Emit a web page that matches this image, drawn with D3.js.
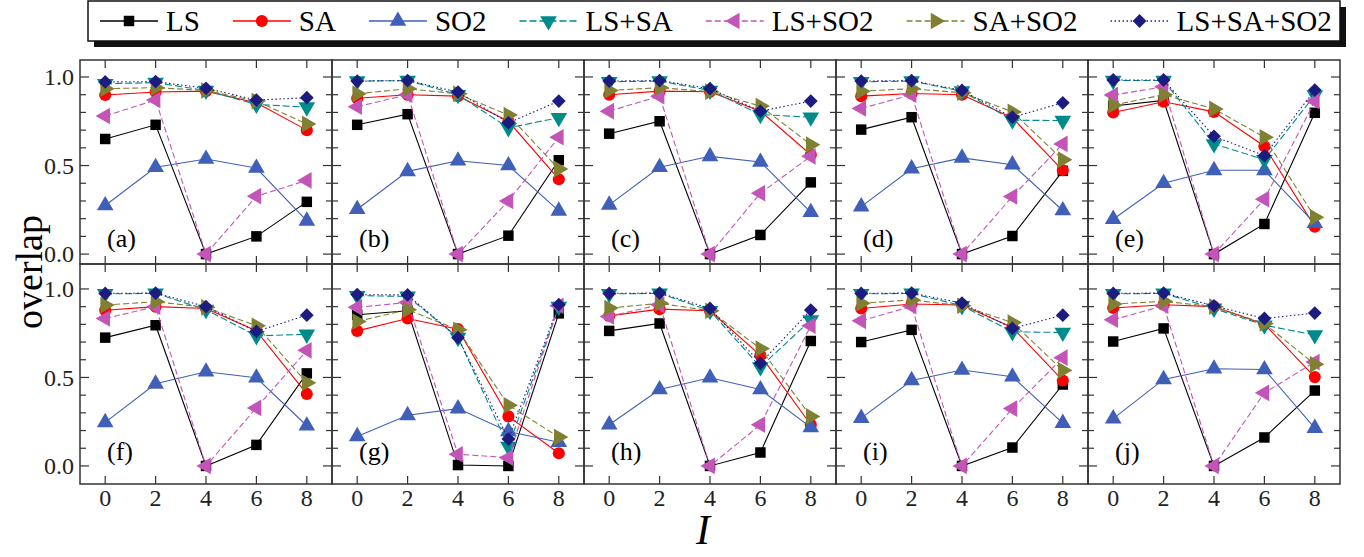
<!DOCTYPE html>
<html>
<head>
<meta charset="utf-8">
<script src="https://cdn.jsdelivr.net/npm/d3@7"></script>
<style>
  body { margin: 0; background: #fff; }
  svg { display: block; }
  text { font-family: 'Liberation Serif', 'DejaVu Serif', serif; }
</style>
</head>
<body>
<div id="chart"></div>
<script>
// x values (I) and panel names
const Ivals = [0, 2, 4, 6, 8];
const panelLabels = ["(a)", "(b)", "(c)", "(d)", "(e)", "(f)", "(g)", "(h)", "(i)", "(j)"];
const seriesNames = ["LS", "SA", "SO2", "LS+SA", "LS+SO2", "SA+SO2", "LS+SA+SO2"];
const yTicks = [0, 0.5, 1.0];

// one row per panel (a..j), values at I = 0,2,4,6,8
const LS = [
  [0.65, 0.73, 0, 0.10, 0.295],
  [0.73, 0.79, 0, 0.104, 0.53],
  [0.68, 0.75, 0, 0.108, 0.405],
  [0.703, 0.773, 0, 0.102, 0.47],
  [0.836, 0.868, 0, 0.17, 0.798],
  [0.725, 0.795, 0, 0.119, 0.523],
  [0.854, 0.877, 0.005, 0, 0.862],
  [0.763, 0.805, 0, 0.076, 0.706],
  [0.70, 0.769, 0, 0.104, 0.46],
  [0.703, 0.777, 0, 0.161, 0.426]
];
const SA = [
  [0.898, 0.915, 0.92, 0.854, 0.70],
  [0.88, 0.90, 0.892, 0.75, 0.423],
  [0.90, 0.92, 0.917, 0.807, 0.561],
  [0.892, 0.907, 0.90, 0.769, 0.473],
  [0.80, 0.86, 0.803, 0.609, 0.155],
  [0.88, 0.90, 0.89, 0.763, 0.407],
  [0.763, 0.833, 0.773, 0.28, 0.072],
  [0.848, 0.886, 0.877, 0.625, 0.233],
  [0.89, 0.915, 0.909, 0.782, 0.483],
  [0.892, 0.911, 0.90, 0.801, 0.502]
];
const SO2 = [
  [0.274, 0.49, 0.537, 0.486, 0.187],
  [0.253, 0.467, 0.527, 0.50, 0.244],
  [0.278, 0.49, 0.552, 0.52, 0.236],
  [0.268, 0.482, 0.543, 0.505, 0.246],
  [0.197, 0.40, 0.473, 0.473, 0.174],
  [0.246, 0.464, 0.532, 0.498, 0.227],
  [0.167, 0.286, 0.324, 0.195, 0.134],
  [0.233, 0.432, 0.498, 0.432, 0.218],
  [0.27, 0.483, 0.542, 0.504, 0.242],
  [0.267, 0.489, 0.549, 0.545, 0.214]
];
const LS_SA = [
  [0.962, 0.968, 0.924, 0.845, 0.83],
  [0.977, 0.98, 0.90, 0.713, 0.77],
  [0.973, 0.977, 0.924, 0.788, 0.773],
  [0.973, 0.977, 0.92, 0.756, 0.754],
  [0.98, 0.98, 0.622, 0.533, 0.898],
  [0.972, 0.975, 0.883, 0.735, 0.744],
  [0.962, 0.958, 0.725, 0.11, 0.90],
  [0.972, 0.975, 0.877, 0.559, 0.824],
  [0.972, 0.975, 0.905, 0.758, 0.754],
  [0.972, 0.975, 0.89, 0.795, 0.74]
];
const LS_SO2 = [
  [0.78, 0.87, 0, 0.327, 0.416],
  [0.832, 0.90, 0, 0.30, 0.66],
  [0.807, 0.892, 0, 0.344, 0.552],
  [0.822, 0.90, 0, 0.325, 0.622],
  [0.898, 0.945, 0, 0.31, 0.864],
  [0.833, 0.90, 0, 0.328, 0.653],
  [0.896, 0.924, 0.066, 0.047, 0.905],
  [0.845, 0.911, 0, 0.233, 0.792],
  [0.82, 0.902, 0, 0.324, 0.612],
  [0.826, 0.905, 0, 0.413, 0.587]
];
const SA_SO2 = [
  [0.934, 0.94, 0.924, 0.864, 0.735],
  [0.905, 0.934, 0.905, 0.785, 0.48],
  [0.924, 0.94, 0.917, 0.836, 0.618],
  [0.92, 0.934, 0.911, 0.803, 0.533],
  [0.841, 0.90, 0.82, 0.66, 0.208],
  [0.909, 0.928, 0.896, 0.792, 0.47],
  [0.816, 0.883, 0.769, 0.343, 0.163],
  [0.892, 0.919, 0.877, 0.663, 0.28],
  [0.919, 0.938, 0.905, 0.81, 0.54],
  [0.915, 0.93, 0.90, 0.805, 0.574]
];
const LS_SA_SO2 = [
  [0.972, 0.974, 0.936, 0.87, 0.883],
  [0.977, 0.98, 0.915, 0.741, 0.864],
  [0.977, 0.98, 0.934, 0.807, 0.864],
  [0.977, 0.98, 0.924, 0.773, 0.854],
  [0.983, 0.983, 0.665, 0.556, 0.926],
  [0.975, 0.977, 0.90, 0.76, 0.852],
  [0.968, 0.966, 0.725, 0.152, 0.911],
  [0.975, 0.977, 0.89, 0.58, 0.881],
  [0.975, 0.977, 0.92, 0.777, 0.852],
  [0.975, 0.977, 0.905, 0.833, 0.864]
];

const allSeries = [LS, SA, SO2, LS_SA, LS_SO2, SA_SO2, LS_SA_SO2];

// styles
const colors = ["#000000", "#ff0000", "#3f5fb8", "#008b8b", "#c455b8", "#808033", "#1c1c80"];
const dashes = [null, null, null, "7,3", "6,3", "6,3", "1.5,2.5"];
const symbols = [
  { type: d3.symbolSquare, size: 110, rot: 0 },
  { type: d3.symbolCircle, size: 115, rot: 0 },
  { type: d3.symbolTriangle, size: 120, rot: 0 },
  { type: d3.symbolTriangle, size: 120, rot: 180 },
  { type: d3.symbolTriangle, size: 120, rot: -90 },
  { type: d3.symbolTriangle, size: 120, rot: 90 },
  { type: d3.symbolSquare, size: 95, rot: 45 }
];

const width = 1364, height = 557;
const panelW = 252;
const left0 = 80;
const rows = [
  { top: 60, bottom: 264, domain: [-0.056, 1.096] },
  { top: 264, bottom: 484, domain: [-0.102, 1.141] }
];
const serif = "'Liberation Serif', 'DejaVu Serif', serif";

const svg = d3.select("#chart").append("svg")
  .attr("width", width)
  .attr("height", height)
  .attr("font-family", serif);

const frameColor = "#333";

for (let p = 0; p < 10; p++) {
  let r = Math.floor(p / 5), c = p % 5;
  let row = rows[r];
  let x0 = left0 + c * panelW;
  let x = d3.scaleLinear().domain([-1, 9]).range([x0, x0 + panelW]);
  let y = d3.scaleLinear().domain(row.domain).range([row.bottom, row.top]);

  let g = svg.append("g").attr("class", "panel");

  // ticks inward on all sides
  let yMinor = d3.range(0, 11).map(d => d / 10);
  g.selectAll("line.yl").data(yMinor).join("line")
    .attr("x1", x0).attr("x2", d => x0 + (d * 10 % 5 === 0 ? 9 : 6))
    .attr("y1", d => y(d)).attr("y2", d => y(d))
    .attr("stroke", frameColor).attr("stroke-width", 1.2);
  g.selectAll("line.yr").data(yMinor).join("line")
    .attr("x1", x0 + panelW).attr("x2", d => x0 + panelW - (d * 10 % 5 === 0 ? 9 : 6))
    .attr("y1", d => y(d)).attr("y2", d => y(d))
    .attr("stroke", frameColor).attr("stroke-width", 1.2);
  g.selectAll("line.xb").data(Ivals).join("line")
    .attr("x1", d => x(d)).attr("x2", d => x(d))
    .attr("y1", row.bottom).attr("y2", row.bottom - 8)
    .attr("stroke", frameColor).attr("stroke-width", 1.2);
  g.selectAll("line.xt").data(Ivals).join("line")
    .attr("x1", d => x(d)).attr("x2", d => x(d))
    .attr("y1", row.top).attr("y2", row.top + 8)
    .attr("stroke", frameColor).attr("stroke-width", 1.2);

  g.append("rect")
    .attr("x", x0).attr("y", row.top)
    .attr("width", panelW).attr("height", row.bottom - row.top)
    .attr("fill", "none").attr("stroke", frameColor).attr("stroke-width", 1.5);

  if (c === 0) {
    g.selectAll("text.yt").data(yTicks).join("text")
      .attr("x", x0 - 6).attr("y", d => y(d))
      .attr("dy", "0.35em")
      .attr("text-anchor", "end")
      .attr("font-family", serif)
      .attr("font-size", 24)
      .attr("fill", "#222")
      .text(d => d3.format(".1f")(d));
  }
  if (r === 1) {
    g.selectAll("text.xt").data(Ivals).join("text")
      .attr("x", d => x(d)).attr("y", row.bottom + 22)
      .attr("text-anchor", "middle")
      .attr("font-family", serif)
      .attr("font-size", 24)
      .attr("fill", "#222")
      .text(d => d);
  }

  g.append("text")
    .attr("x", x0 + 27).attr("y", r === 0 ? row.bottom - 17 : row.bottom - 24)
    .attr("font-family", serif)
    .attr("font-size", 26)
    .text(panelLabels[p]);

  let line = d3.line().x((d, i) => x(Ivals[i])).y(d => y(d));

  allSeries.forEach((s, k) => {
    let vals = s[p];
    g.append("path")
      .attr("d", line(vals))
      .attr("fill", "none")
      .attr("stroke", colors[k])
      .attr("stroke-width", 1.1)
      .attr("stroke-dasharray", dashes[k]);
    g.selectAll(null).data(vals).join("path")
      .attr("transform", (d, i) => `translate(${x(Ivals[i])},${y(d)}) rotate(${symbols[k].rot})`)
      .attr("d", d3.symbol().type(symbols[k].type).size(symbols[k].size))
      .attr("fill", colors[k]);
  });
}

// axis titles
svg.append("text")
  .attr("transform", "translate(42,272) rotate(-90)")
  .attr("text-anchor", "middle")
  .attr("font-family", serif)
  .attr("font-size", 38)
  .text("overlap");

svg.append("text")
  .attr("x", 703).attr("y", 544)
  .attr("text-anchor", "middle")
  .attr("font-family", serif)
  .attr("font-size", 42)
  .attr("font-style", "italic")
  .text("I");

// legend
const legend = svg.append("g").attr("class", "legend");
legend.append("rect")
  .attr("x", 94).attr("y", 7).attr("width", 1252).attr("height", 40)
  .attr("fill", "#111");
legend.append("rect")
  .attr("x", 88).attr("y", 1).attr("width", 1252).attr("height", 40)
  .attr("fill", "#fff").attr("stroke", "#111").attr("stroke-width", 1.5);

let lx = 100;
const ly = 21;
seriesNames.forEach((name, k) => {
  legend.append("line")
    .attr("x1", lx).attr("x2", lx + 58)
    .attr("y1", ly).attr("y2", ly)
    .attr("stroke", colors[k]).attr("stroke-width", 1.3)
    .attr("stroke-dasharray", dashes[k]);
  legend.append("path")
    .attr("transform", `translate(${lx + 29},${ly}) rotate(${symbols[k].rot})`)
    .attr("d", d3.symbol().type(symbols[k].type).size(symbols[k].size))
    .attr("fill", colors[k]);
  let t = legend.append("text")
    .attr("x", lx + 66).attr("y", ly)
    .attr("dy", "0.35em")
    .attr("font-family", serif)
    .attr("font-size", 29)
    .text(name);
  lx += 66 + t.node().getComputedTextLength() + 33;
});
</script>
</body>
</html>
